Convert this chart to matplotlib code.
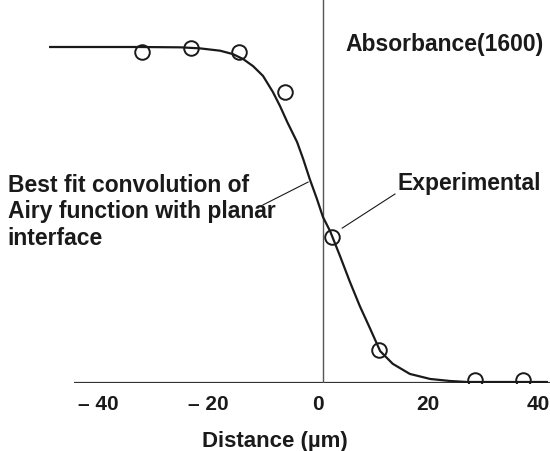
import matplotlib.pyplot as plt

plt.rcParams['font.family'] = ['Liberation Sans', 'DejaVu Sans']

# fitted curve (distance in um, normalized absorbance)
fit_x = [-48.7, -32.4, -25.0, -21.5, -17.8, -15.5, -13.6, -11.8, -10.0, -8.2, -6.9,
         -5.6, -3.8, -2.7, -1.5, -0.2, 0.9, 2.2, 4.0, 5.8, 7.6, 9.5, 11.3, 13.6,
         16.7, 20.4, 24.0, 27.1, 41.6]
fit_y = [1.0, 1.0, 0.999, 0.996, 0.989, 0.979, 0.964, 0.943, 0.914, 0.866, 0.824,
         0.777, 0.717, 0.667, 0.607, 0.548, 0.494, 0.452, 0.378, 0.301, 0.229, 0.161,
         0.095, 0.057, 0.027, 0.012, 0.006, 0.003, 0.003]

# experimental points
exp_x = [-32.0, -23.1, -14.4, -6.0, 2.5, 11.1, 28.5, 37.3]
exp_y = [0.985, 0.997, 0.985, 0.866, 0.435, 0.098, 0.009, 0.009]

xticks = [-40, -20, 0, 20, 40]
xticklabels = ['\u2013 40', '\u2013 20', '0', '20', '40']

ink = '#1a1a1a'

fig = plt.figure(figsize=(5.5, 4.52), dpi=100)
ax = fig.add_axes([0, 68 / 452, 1, 384 / 452])
ax.set_xlim(-318 / 5.5, 232 / 5.5)
ax.set_ylim(0, 384 / 336)
for s in ax.spines.values():
    s.set_visible(False)
ax.set_yticks([])

# baseline and interface line
ax.plot([-44.4, 42.2], [0, 0], color='#333333', lw=1.6, solid_capstyle='butt')
ax.plot([0.9, 0.9], [0, 384 / 336], color='#555555', lw=1.0)

ax.plot(fit_x, fit_y, color=ink, lw=1.6)
ax.plot(exp_x, exp_y, 'o', mfc='none', mec=ink, ms=10.5, mew=1.4)

ax.set_xticks(xticks)
ax.set_xticklabels(xticklabels, fontsize=15, fontweight='bold', color=ink)
ax.tick_params(axis='x', length=0, pad=8)
ax.set_xlabel('Distance (\u00b5m)', fontsize=16, fontweight='bold', color=ink, labelpad=12)

ax.text(4.9, 1.009, 'Absorbance(1600)', fontsize=16.5, fontweight='bold',
        color=ink, ha='left', va='center')
ax.text(-56.4, 0.512, 'Best fit convolution of\nAiry function with planar\ninterface',
        fontsize=16.5, fontweight='bold', color=ink, ha='left', va='center',
        linespacing=1.2)
ax.text(14.5, 0.598, 'Experimental', fontsize=16.5, fontweight='bold',
        color=ink, ha='left', va='center')

# leader lines
ax.plot([-10.0, -1.8], [0.530, 0.598], color=ink, lw=0.8)
ax.plot([4.4, 14.0], [0.461, 0.5625], color=ink, lw=0.8)

fig.savefig('out.png', dpi=100)
